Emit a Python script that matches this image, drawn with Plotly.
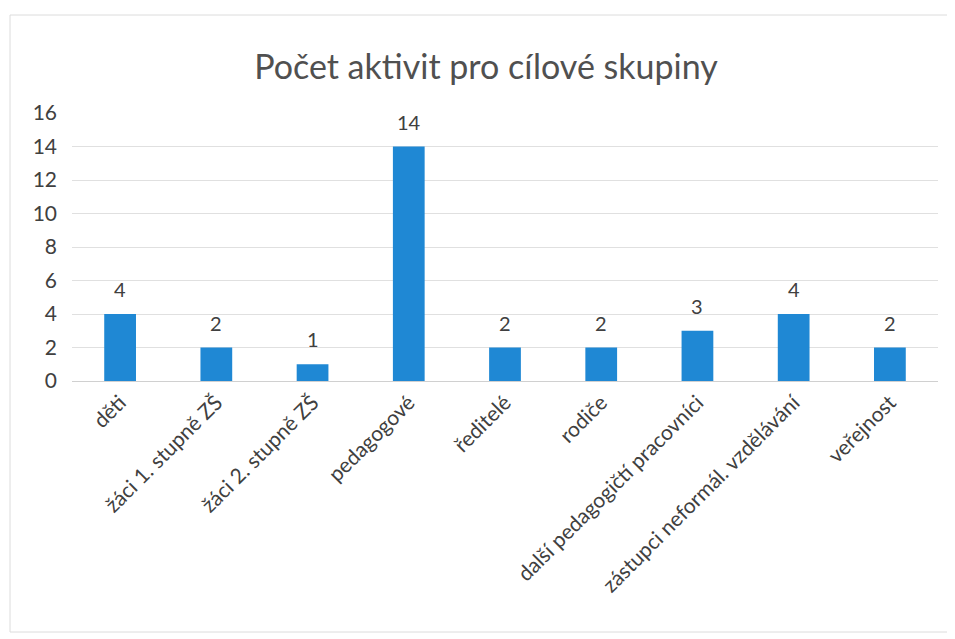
import plotly.graph_objects as go

categories = ["děti", "žáci 1. stupně ZŠ", "žáci 2. stupně ZŠ", "pedagogové", "ředitelé",
              "rodiče", "další pedagogičtí pracovníci", "zástupci neformál. vzdělávání", "veřejnost"]
values = [4, 2, 1, 14, 2, 2, 3, 4, 2]
y_ticks = [0, 2, 4, 6, 8, 10, 12, 14, 16]

# page body has an 8px margin, so figure coords = screen coords - 8
W, H = 947, 631
ml, mr, mt, mb = 64, 17, 105, 258
pw, ph = W - ml - mr, H - mt - mb

fig = go.Figure(go.Bar(
    x=categories, y=values, width=0.33,
    marker=dict(color="#1f88d4", line=dict(width=0)),
))

for c, v in zip(categories, values):
    fig.add_annotation(x=c, y=v, text=str(v), showarrow=False, yanchor="bottom",
                       yshift=11, font=dict(size=20, color="#404040", family="Lato"))

fig.update_layout(
    width=W, height=H,
    margin=dict(l=ml, r=mr, t=mt, b=mb),
    paper_bgcolor="white", plot_bgcolor="white",
    font=dict(family="Lato", color="#404040"),
    title=dict(text="Počet aktivit pro cílové skupiny", x=478 / W, xanchor="center",
               y=1 - 59 / H, yanchor="middle",
               font=dict(size=34, color="#505050", family="Lato")),
    showlegend=False,
)
fig.update_xaxes(tickangle=-45, tickfont=dict(size=21, color="#404040"),
                 showline=True, linecolor="#d0d0d0", linewidth=1, ticks="",
                 showgrid=False)
fig.update_yaxes(range=[0, 16], tickvals=y_ticks, tickfont=dict(size=21, color="#404040"),
                 showgrid=True, gridcolor="#e0e0e0", gridwidth=1, zeroline=False,
                 showline=False, ticks="", ticklabelstandoff=14)

fig.add_shape(type="rect", xref="paper", yref="paper",
              x0=(2 - ml) / pw, x1=(942 - ml) / pw,
              y0=(H - mb - 624) / ph, y1=(H - mb - 7) / ph,
              line=dict(color="#dcdcdc", width=1), fillcolor="rgba(0,0,0,0)", layer="below")

fig.write_html("out.html")
